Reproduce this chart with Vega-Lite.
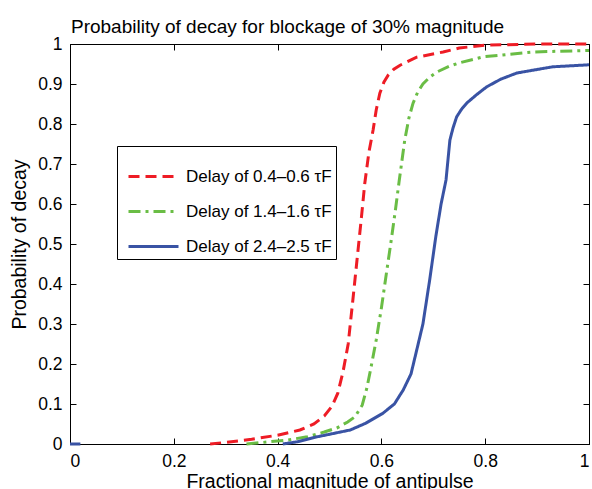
{
  "$schema": "https://vega.github.io/schema/vega-lite/v6.json",
  "width": 519,
  "height": 400,
  "autosize": "none",
  "padding": {"left": 70, "top": 44, "right": 3, "bottom": 45},
  "config": {
    "font": "Liberation Sans",
    "view": {"stroke": "black", "strokeWidth": 1},
    "axis": {"grid": false, "domainColor": "black", "tickColor": "black", "labelColor": "black", "titleColor": "black", "labelFontSize": 17.5, "titleFontSize": 19.5, "titleFontWeight": "normal", "tickSize": -6, "labelPadding": 14, "format": "~g"}
  },
  "title": {"text": "Probability of decay for blockage of 30% magnitude", "fontSize": 19, "fontWeight": "normal", "anchor": "middle", "dx": -42, "baseline": "alphabetic", "offset": -17, "color": "black"},
  "data": {"values": [
    {"s": "Delay of 0.4–0.6 τF", "p": 1, "x": 0.27, "y": 0},
    {"s": "Delay of 0.4–0.6 τF", "p": 1, "x": 0.30, "y": 0.004},
    {"s": "Delay of 0.4–0.6 τF", "p": 1, "x": 0.35, "y": 0.012},
    {"s": "Delay of 0.4–0.6 τF", "p": 1, "x": 0.40, "y": 0.022},
    {"s": "Delay of 0.4–0.6 τF", "p": 1, "x": 0.443, "y": 0.035},
    {"s": "Delay of 0.4–0.6 τF", "p": 1, "x": 0.47, "y": 0.05},
    {"s": "Delay of 0.4–0.6 τF", "p": 1, "x": 0.49, "y": 0.07},
    {"s": "Delay of 0.4–0.6 τF", "p": 1, "x": 0.505, "y": 0.095},
    {"s": "Delay of 0.4–0.6 τF", "p": 1, "x": 0.516, "y": 0.127},
    {"s": "Delay of 0.4–0.6 τF", "p": 1, "x": 0.526, "y": 0.18},
    {"s": "Delay of 0.4–0.6 τF", "p": 1, "x": 0.536, "y": 0.25},
    {"s": "Delay of 0.4–0.6 τF", "p": 1, "x": 0.545, "y": 0.36},
    {"s": "Delay of 0.4–0.6 τF", "p": 1, "x": 0.553, "y": 0.46},
    {"s": "Delay of 0.4–0.6 τF", "p": 1, "x": 0.561, "y": 0.56},
    {"s": "Delay of 0.4–0.6 τF", "p": 1, "x": 0.568, "y": 0.652},
    {"s": "Delay of 0.4–0.6 τF", "p": 1, "x": 0.576, "y": 0.73},
    {"s": "Delay of 0.4–0.6 τF", "p": 1, "x": 0.584, "y": 0.785},
    {"s": "Delay of 0.4–0.6 τF", "p": 1, "x": 0.590, "y": 0.835},
    {"s": "Delay of 0.4–0.6 τF", "p": 1, "x": 0.597, "y": 0.877},
    {"s": "Delay of 0.4–0.6 τF", "p": 1, "x": 0.605, "y": 0.905},
    {"s": "Delay of 0.4–0.6 τF", "p": 1, "x": 0.613, "y": 0.922},
    {"s": "Delay of 0.4–0.6 τF", "p": 1, "x": 0.624, "y": 0.937},
    {"s": "Delay of 0.4–0.6 τF", "p": 1, "x": 0.636, "y": 0.947},
    {"s": "Delay of 0.4–0.6 τF", "p": 1, "x": 0.668, "y": 0.967},
    {"s": "Delay of 0.4–0.6 τF", "p": 1, "x": 0.719, "y": 0.98},
    {"s": "Delay of 0.4–0.6 τF", "p": 1, "x": 0.75, "y": 0.99},
    {"s": "Delay of 0.4–0.6 τF", "p": 1, "x": 0.80, "y": 0.997},
    {"s": "Delay of 0.4–0.6 τF", "p": 1, "x": 0.90, "y": 1.0},
    {"s": "Delay of 0.4–0.6 τF", "p": 1, "x": 1.0, "y": 1.0},
    {"s": "Delay of 1.4–1.6 τF", "p": 1, "x": 0.34, "y": 0},
    {"s": "Delay of 1.4–1.6 τF", "p": 1, "x": 0.38, "y": 0.005},
    {"s": "Delay of 1.4–1.6 τF", "p": 1, "x": 0.42, "y": 0.01},
    {"s": "Delay of 1.4–1.6 τF", "p": 1, "x": 0.457, "y": 0.018},
    {"s": "Delay of 1.4–1.6 τF", "p": 1, "x": 0.49, "y": 0.03},
    {"s": "Delay of 1.4–1.6 τF", "p": 1, "x": 0.514, "y": 0.04},
    {"s": "Delay of 1.4–1.6 τF", "p": 1, "x": 0.535, "y": 0.055},
    {"s": "Delay of 1.4–1.6 τF", "p": 1, "x": 0.549, "y": 0.068},
    {"s": "Delay of 1.4–1.6 τF", "p": 1, "x": 0.563, "y": 0.097},
    {"s": "Delay of 1.4–1.6 τF", "p": 1, "x": 0.572, "y": 0.14},
    {"s": "Delay of 1.4–1.6 τF", "p": 1, "x": 0.579, "y": 0.185},
    {"s": "Delay of 1.4–1.6 τF", "p": 1, "x": 0.590, "y": 0.26},
    {"s": "Delay of 1.4–1.6 τF", "p": 1, "x": 0.600, "y": 0.34},
    {"s": "Delay of 1.4–1.6 τF", "p": 1, "x": 0.610, "y": 0.43},
    {"s": "Delay of 1.4–1.6 τF", "p": 1, "x": 0.619, "y": 0.51},
    {"s": "Delay of 1.4–1.6 τF", "p": 1, "x": 0.627, "y": 0.585},
    {"s": "Delay of 1.4–1.6 τF", "p": 1, "x": 0.634, "y": 0.655},
    {"s": "Delay of 1.4–1.6 τF", "p": 1, "x": 0.645, "y": 0.76},
    {"s": "Delay of 1.4–1.6 τF", "p": 1, "x": 0.653, "y": 0.815},
    {"s": "Delay of 1.4–1.6 τF", "p": 1, "x": 0.661, "y": 0.852},
    {"s": "Delay of 1.4–1.6 τF", "p": 1, "x": 0.670, "y": 0.88},
    {"s": "Delay of 1.4–1.6 τF", "p": 1, "x": 0.680, "y": 0.9},
    {"s": "Delay of 1.4–1.6 τF", "p": 1, "x": 0.694, "y": 0.918},
    {"s": "Delay of 1.4–1.6 τF", "p": 1, "x": 0.707, "y": 0.93},
    {"s": "Delay of 1.4–1.6 τF", "p": 1, "x": 0.732, "y": 0.945},
    {"s": "Delay of 1.4–1.6 τF", "p": 1, "x": 0.748, "y": 0.952},
    {"s": "Delay of 1.4–1.6 τF", "p": 1, "x": 0.796, "y": 0.968},
    {"s": "Delay of 1.4–1.6 τF", "p": 1, "x": 0.892, "y": 0.98},
    {"s": "Delay of 1.4–1.6 τF", "p": 1, "x": 1.0, "y": 0.984},
    {"s": "Delay of 2.4–2.5 τF", "p": 0, "x": 0, "y": 0},
    {"s": "Delay of 2.4–2.5 τF", "p": 0, "x": 0.02, "y": 0},
    {"s": "Delay of 2.4–2.5 τF", "p": 1, "x": 0.41, "y": 0},
    {"s": "Delay of 2.4–2.5 τF", "p": 1, "x": 0.44, "y": 0.006},
    {"s": "Delay of 2.4–2.5 τF", "p": 1, "x": 0.476, "y": 0.018},
    {"s": "Delay of 2.4–2.5 τF", "p": 1, "x": 0.51, "y": 0.027},
    {"s": "Delay of 2.4–2.5 τF", "p": 1, "x": 0.54, "y": 0.035},
    {"s": "Delay of 2.4–2.5 τF", "p": 1, "x": 0.57, "y": 0.052},
    {"s": "Delay of 2.4–2.5 τF", "p": 1, "x": 0.603, "y": 0.077},
    {"s": "Delay of 2.4–2.5 τF", "p": 1, "x": 0.625, "y": 0.1},
    {"s": "Delay of 2.4–2.5 τF", "p": 1, "x": 0.642, "y": 0.135},
    {"s": "Delay of 2.4–2.5 τF", "p": 1, "x": 0.657, "y": 0.175},
    {"s": "Delay of 2.4–2.5 τF", "p": 1, "x": 0.669, "y": 0.24},
    {"s": "Delay of 2.4–2.5 τF", "p": 1, "x": 0.680, "y": 0.3},
    {"s": "Delay of 2.4–2.5 τF", "p": 1, "x": 0.693, "y": 0.41},
    {"s": "Delay of 2.4–2.5 τF", "p": 1, "x": 0.705, "y": 0.52},
    {"s": "Delay of 2.4–2.5 τF", "p": 1, "x": 0.715, "y": 0.6},
    {"s": "Delay of 2.4–2.5 τF", "p": 1, "x": 0.7245, "y": 0.66},
    {"s": "Delay of 2.4–2.5 τF", "p": 1, "x": 0.732, "y": 0.76},
    {"s": "Delay of 2.4–2.5 τF", "p": 1, "x": 0.738, "y": 0.79},
    {"s": "Delay of 2.4–2.5 τF", "p": 1, "x": 0.745, "y": 0.818},
    {"s": "Delay of 2.4–2.5 τF", "p": 1, "x": 0.755, "y": 0.838},
    {"s": "Delay of 2.4–2.5 τF", "p": 1, "x": 0.765, "y": 0.853},
    {"s": "Delay of 2.4–2.5 τF", "p": 1, "x": 0.785, "y": 0.875},
    {"s": "Delay of 2.4–2.5 τF", "p": 1, "x": 0.803, "y": 0.893},
    {"s": "Delay of 2.4–2.5 τF", "p": 1, "x": 0.83, "y": 0.912},
    {"s": "Delay of 2.4–2.5 τF", "p": 1, "x": 0.861, "y": 0.9275},
    {"s": "Delay of 2.4–2.5 τF", "p": 1, "x": 0.93, "y": 0.943},
    {"s": "Delay of 2.4–2.5 τF", "p": 1, "x": 1.0, "y": 0.948}
  ]},
  "layer": [
    {
      "mark": {"type": "line", "strokeWidth": 3, "opacity": 0},
      "encoding": {
        "x": {"field": "x", "type": "quantitative", "scale": {"domain": [0, 1], "nice": false}, "axis": {"orient": "top", "labels": false, "labelPadding": 0, "title": null, "domain": false, "values": [0, 0.2, 0.4, 0.6, 0.8, 1]}},
        "y": {"field": "y", "type": "quantitative", "scale": {"domain": [0, 1], "nice": false}, "axis": {"orient": "right", "labels": false, "labelPadding": 0, "title": null, "domain": false, "values": [0, 0.1, 0.2, 0.3, 0.4, 0.5, 0.6, 0.7, 0.8, 0.9, 1]}},
        "detail": {"field": "s"}
      }
    },
    {
      "mark": {"type": "line", "strokeWidth": 3},
      "encoding": {
        "x": {"field": "x", "type": "quantitative", "scale": {"domain": [0, 1], "nice": false}, "axis": {"orient": "bottom", "title": "Fractional magnitude of antipulse", "values": [0, 0.2, 0.4, 0.6, 0.8, 1], "titlePadding": 3}},
        "y": {"field": "y", "type": "quantitative", "scale": {"domain": [0, 1], "nice": false}, "axis": {"orient": "left", "title": "Probability of decay", "values": [0, 0.1, 0.2, 0.3, 0.4, 0.5, 0.6, 0.7, 0.8, 0.9, 1], "titlePadding": 8}},
        "color": {"field": "s", "type": "nominal", "title": null,
          "scale": {"domain": ["Delay of 0.4–0.6 τF", "Delay of 1.4–1.6 τF", "Delay of 2.4–2.5 τF"], "range": ["#ee1c25", "#6abd45", "#3953a4"]},
          "legend": {"orient": "none", "legendX": 47, "legendY": 102, "fillColor": "white", "strokeColor": "black", "padding": 4, "symbolOffset": 6, "labelFontSize": 17, "labelColor": "black", "symbolType": "stroke", "symbolSize": 2500, "symbolStrokeWidth": 3, "rowPadding": -5, "labelOffset": 6, "labelLimit": 300}},
        "strokeDash": {"field": "s", "type": "nominal", "title": null,
          "scale": {"domain": ["Delay of 0.4–0.6 τF", "Delay of 1.4–1.6 τF", "Delay of 2.4–2.5 τF"], "range": [[11, 6], [12, 5, 3, 5], [1, 0]]}},
        "detail": {"field": "p"}
      }
    }
  ],
  "resolve": {"axis": {"x": "independent", "y": "independent"}}
}
